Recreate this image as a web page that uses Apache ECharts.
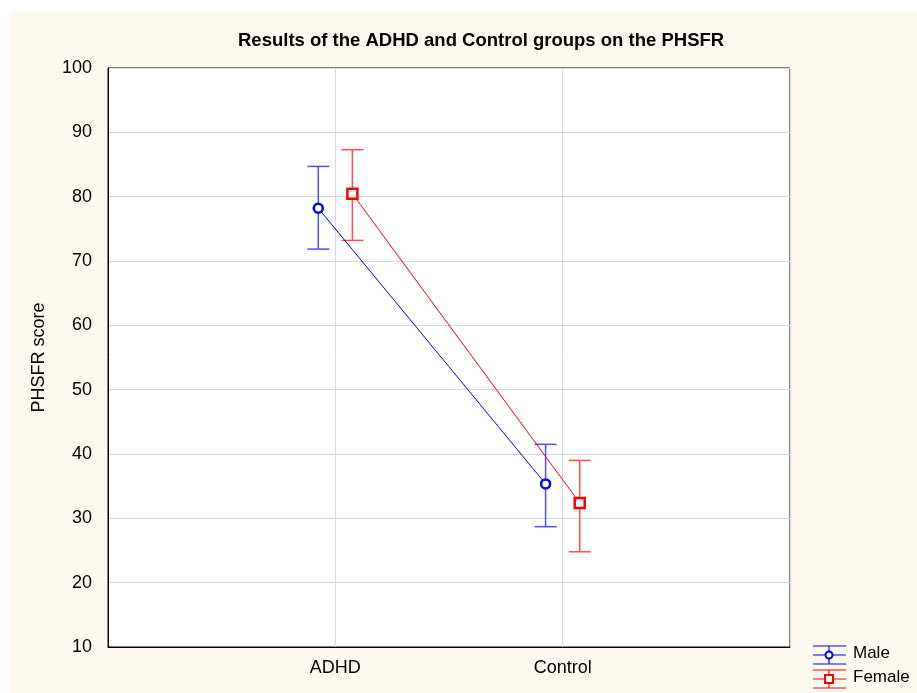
<!DOCTYPE html>
<html lang="en">
	<head>
		<meta charset="UTF-8" />
		<title>PHSFR Results</title>
		<script src="https://cdn.jsdelivr.net/npm/echarts@6/dist/echarts.min.js"></script>
		<style>
			html, body { margin: 0; padding: 0; background: #fff; }
		</style>
	</head>
	<body>
		<div id="myChart" style="width: 917px; height: 693px"></div>

		<script>
			// data
			const groups = ["ADHD", "Control"];
			const seriesNames = ["Male", "Female"];
			const maleMean = [78.2, 35.35];
			const maleLow = [71.85, 28.7];
			const maleHigh = [84.7, 41.5];
			const femaleMean = [80.45, 32.4];
			const femaleLow = [73.2, 24.8];
			const femaleHigh = [87.3, 39.0];
			const yTicks = [10, 20, 30, 40, 50, 60, 70, 80, 90, 100];

			const offset = 0.075; // horizontal dodge of the two groups
			const maleColor = "#0000ff";
			const femaleColor = "#ff0000";

			function points(means, shift) {
				return means.map((v, i) => [i + 1 + shift, v]);
			}
			function bars(lows, highs, shift) {
				return lows.map((lo, i) => [i + 1 + shift, lo, highs[i]]);
			}

			function errorBar(color) {
				return function (params, api) {
					const lo = api.coord([api.value(0), api.value(1)]);
					const hi = api.coord([api.value(0), api.value(2)]);
					const half = 11;
					const style = { stroke: color, lineWidth: 1.5 };
					return {
						type: "group",
						children: [
							{ type: "line", shape: { x1: lo[0], y1: lo[1], x2: hi[0], y2: hi[1] }, style: style },
							{ type: "line", shape: { x1: lo[0] - half, y1: lo[1], x2: lo[0] + half, y2: lo[1] }, style: style },
							{ type: "line", shape: { x1: hi[0] - half, y1: hi[1], x2: hi[0] + half, y2: hi[1] }, style: style },
						],
					};
				};
			}

			const myChart = echarts.init(document.getElementById("myChart"));
			const font = "Liberation Sans, Arial, sans-serif";

			function legendItem(y, color, name, symbol) {
				const children = [
					{ type: "line", shape: { x1: 813, y1: y - 9, x2: 846, y2: y - 9 }, style: { stroke: color, lineWidth: 1.2 } },
					{ type: "line", shape: { x1: 813, y1: y + 9, x2: 846, y2: y + 9 }, style: { stroke: color, lineWidth: 1.2 } },
					{ type: "line", shape: { x1: 829, y1: y - 9, x2: 829, y2: y + 9 }, style: { stroke: color, lineWidth: 1.2 } },
					{ type: "line", shape: { x1: 813, y1: y, x2: 846, y2: y }, style: { stroke: color, lineWidth: 1 } },
					symbol,
					{ type: "text", left: 853, top: y - 10, style: { text: name, font: "17px " + font, fill: "#000" } },
				];
				return { type: "group", children: children };
			}

			const option = {
				animation: false,
				backgroundColor: "#fff",
				graphic: [
					{ type: "rect", z: -10, shape: { x: 10, y: 11, width: 907, height: 682 }, style: { fill: "#fdf9ee" } },
					legendItem(655, maleColor, seriesNames[0], {
						type: "circle", shape: { cx: 829, cy: 655, r: 3.5 }, style: { fill: "#fff", stroke: maleColor, lineWidth: 2 }, z: 10,
					}),
					legendItem(679, femaleColor, seriesNames[1], {
						type: "rect", shape: { x: 825, y: 675, width: 8, height: 8 }, style: { fill: "#fff", stroke: femaleColor, lineWidth: 2 }, z: 10,
					}),
				],
				title: {
					text: "Results of the ADHD and Control groups on the PHSFR",
					left: 233,
					top: 26,
					textStyle: {
						fontFamily: "Liberation Sans Narrow, Arial Narrow, Liberation Sans, sans-serif",
						fontWeight: "bold",
						fontSize: 18.5,
						color: "#000",
					},
				},
				grid: {
					left: 108,
					right: 127,
					top: 68,
					bottom: 46,
					show: true,
					backgroundColor: "#fff",
					borderColor: "#000",
					borderWidth: 1,
				},
				xAxis: {
					type: "value",
					min: 0,
					max: 3,
					interval: 1,
					axisLine: { show: true, lineStyle: { color: "#000" } },
					axisTick: { show: false },
					splitLine: { show: true, lineStyle: { color: "#d9d9d9" } },
					axisLabel: {
						color: "#000",
						fontFamily: font,
						fontSize: 18,
						margin: 12,
						showMinLabel: false,
						showMaxLabel: false,
						formatter: (v) => (v >= 1 && v <= groups.length ? groups[v - 1] : ""),
					},
				},
				yAxis: {
					type: "value",
					min: yTicks[0],
					max: yTicks[yTicks.length - 1],
					interval: 10,
					name: "PHSFR score",
					nameLocation: "middle",
					nameGap: 60,
					nameTextStyle: { color: "#000", fontFamily: font, fontSize: 18 },
					axisLine: { show: true, lineStyle: { color: "#000" } },
					axisTick: { show: false },
					splitLine: { show: true, lineStyle: { color: "#d9d9d9" } },
					axisLabel: { color: "#000", fontFamily: font, fontSize: 18, margin: 16 },
				},
				series: [
					{
						name: "Male error",
						type: "custom",
						renderItem: errorBar("#4d4dff"),
						data: bars(maleLow, maleHigh, -offset),
						encode: { x: 0, y: [1, 2] },
						z: 2,
					},
					{
						name: "Female error",
						type: "custom",
						renderItem: errorBar("#ff4d4d"),
						data: bars(femaleLow, femaleHigh, offset),
						encode: { x: 0, y: [1, 2] },
						z: 2,
					},
					{
						name: seriesNames[0],
						type: "line",
						data: points(maleMean, -offset),
						symbol: "circle",
						symbolSize: 9,
						lineStyle: { color: maleColor, width: 1 },
						itemStyle: { color: "#fff", borderColor: maleColor, borderWidth: 2.5 },
						z: 3,
					},
					{
						name: seriesNames[1],
						type: "line",
						data: points(femaleMean, offset),
						symbol: "rect",
						symbolSize: 10,
						lineStyle: { color: femaleColor, width: 1 },
						itemStyle: { color: "#fff", borderColor: femaleColor, borderWidth: 2.5 },
						z: 3,
					},
				],
			};

			myChart.setOption(option);
		</script>
	</body>
</html>
